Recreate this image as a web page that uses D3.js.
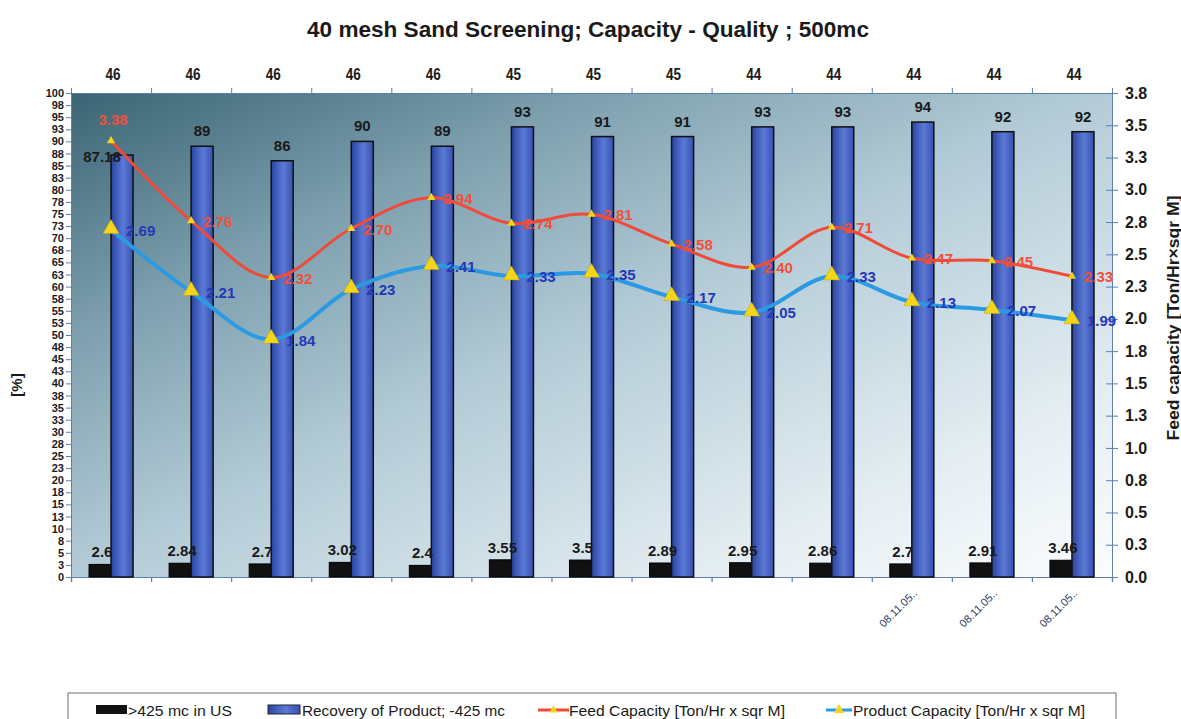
<!DOCTYPE html>
<html>
<head>
<meta charset="utf-8">
<script src="https://cdn.jsdelivr.net/npm/d3@7"></script>
<style>
  body { margin:0; background:#fff; }
  svg { display:block; font-family: "Liberation Sans", Arial, sans-serif; }
</style>
</head>
<body>
<svg id="chart" width="1181" height="719"></svg>
<script>
// ---------- DATA ----------
const categories = ["1","2","3","4","5","6","7","8","9","10","11","12","13"];
const xLabels = ["","","","","","","","","","","08.11.05..","08.11.05..","08.11.05.."];
const topLabels = [46,46,46,46,46,45,45,45,44,44,44,44,44];
const oversize = [2.6,2.84,2.7,3.02,2.4,3.55,3.5,2.89,2.95,2.86,2.7,2.91,3.46];      // >425 mc in US [%]
const recovery = [87.18,89,86,90,89,93,91,91,93,93,94,92,92];                       // Recovery of Product; -425 mc [%]
const feedCap = [3.38,2.76,2.32,2.70,2.94,2.74,2.81,2.58,2.40,2.71,2.47,2.45,2.33];  // Feed Capacity
const prodCap = [2.69,2.21,1.84,2.23,2.41,2.33,2.35,2.17,2.05,2.33,2.13,2.07,1.99];  // Product Capacity
const leftTicks = d3.range(0, 100.01, 2.5);
const leftTickLabels = ["0","3","5","8","10","13","15","18","20","23","25","28","30","33","35","38","40","43","45","48","50","53","55","58","60","63","65","68","70","73","75","78","80","83","85","88","90","93","95","98","100"];
const rightTicks = d3.range(0, 3.76, 0.25);
const rightTickLabels = ["0.0","0.3","0.5","0.8","1.0","1.3","1.5","1.8","2.0","2.3","2.5","2.8","3.0","3.3","3.5","3.8"];
const title = "40 mesh Sand Screening; Capacity - Quality ; 500mc";
const legendItems = [">425 mc in US","Recovery of Product; -425 mc","Feed Capacity [Ton/Hr x sqr M]","Product Capacity [Ton/Hr x sqr M]"];

// ---------- LAYOUT ----------
const svg = d3.select("#chart");
const M = {left:71, right:1112, top:93, bottom:577};
const W = M.right - M.left, H = M.bottom - M.top;

const defs = svg.append("defs");
const bg = defs.append("linearGradient").attr("id","bg").attr("x1","0").attr("y1","0").attr("x2","1").attr("y2","1");
bg.append("stop").attr("offset","0").attr("stop-color","#3a6474");
bg.append("stop").attr("offset","0.25").attr("stop-color","#7d9fae");
bg.append("stop").attr("offset","0.5").attr("stop-color","#b4ccd7");
bg.append("stop").attr("offset","0.8").attr("stop-color","#e4edf2");
bg.append("stop").attr("offset","1").attr("stop-color","#fbfdfe");
const barG = defs.append("linearGradient").attr("id","barG").attr("x1","0").attr("y1","0").attr("x2","1").attr("y2","0");
barG.append("stop").attr("offset","0").attr("stop-color","#2a44a0");
barG.append("stop").attr("offset","0.55").attr("stop-color","#5a7ad6");
barG.append("stop").attr("offset","1").attr("stop-color","#3850b0");

const x0 = d3.scaleBand().domain(categories).range([M.left, M.right]).paddingInner(0.45).paddingOuter(0.225);
const x1 = d3.scaleBand().domain(["over","rec"]).range([0, x0.bandwidth()]);
const step = x0.step();
const yL = d3.scaleLinear().domain([0,100]).range([M.bottom, M.top]);
const yR = d3.scaleLinear().domain([0,3.75]).range([M.bottom, M.top]);
const cx = c => x0(c) + x0.bandwidth()/2;

// plot background
svg.append("rect").attr("x",M.left).attr("y",M.top).attr("width",W).attr("height",H).attr("fill","url(#bg)");

// title
svg.append("text").attr("x",588).attr("y",37).attr("text-anchor","middle")
  .attr("font-size",22).attr("font-weight","bold").attr("fill","#1a1a1a")
  .attr("textLength",562).attr("lengthAdjust","spacingAndGlyphs").text(title);

// top labels
svg.append("g").selectAll("text").data(topLabels).join("text")
  .attr("x",(d,i)=>cx(categories[i])+2).attr("y",80).attr("text-anchor","middle")
  .attr("font-size",16).attr("font-weight","bold").attr("fill","#1a1a1a")
  .attr("textLength",15).attr("lengthAdjust","spacingAndGlyphs").text(d=>d);

// axes
const axisColor = "#5a7fb0";
const boundaries = d3.range(0, categories.length+1).map(i => M.left + i*step);
const xBottom = d3.axisBottom(d3.scaleLinear().domain([M.left,M.right]).range([M.left,M.right]))
  .tickValues(boundaries).tickSize(5).tickFormat("");
svg.append("g").attr("transform",`translate(0,${M.bottom})`).call(xBottom)
  .call(g=>g.selectAll("path,line").attr("stroke",axisColor).attr("stroke-width",1.2));
const xTop = d3.axisTop(d3.scaleLinear().domain([M.left,M.right]).range([M.left,M.right]))
  .tickValues(boundaries).tickSize(5).tickFormat("");
svg.append("g").attr("transform",`translate(0,${M.top})`).call(xTop)
  .call(g=>g.selectAll("path,line").attr("stroke",axisColor).attr("stroke-width",1));

// bottom category labels
svg.append("g").selectAll("text").data(xLabels).join("text")
  .attr("transform",(d,i)=>`translate(${cx(categories[i])+6},${M.bottom+17}) rotate(-45)`)
  .attr("text-anchor","end").attr("font-size",11).attr("fill","#2a3a6a").text(d=>d);

// left axis
const axL = d3.axisLeft(yL).tickValues(leftTicks).tickSize(5).tickFormat((d,i)=>leftTickLabels[i]);
svg.append("g").attr("transform",`translate(${M.left},0)`).call(axL)
  .call(g=>g.selectAll("path,line").attr("stroke",axisColor))
  .call(g=>g.selectAll("text").attr("font-size",11).attr("font-weight","bold").attr("fill","#1a1a1a").attr("x",-7));
// right axis
const axR = d3.axisRight(yR).tickValues(rightTicks).tickSize(6).tickFormat((d,i)=>rightTickLabels[i]);
svg.append("g").attr("transform",`translate(${M.right},0)`).call(axR)
  .call(g=>g.selectAll("path,line").attr("stroke",axisColor))
  .call(g=>g.selectAll("line").attr("x1",-6))
  .call(g=>g.selectAll("text").attr("font-size",16).attr("font-weight","bold").attr("fill","#1a1a1a").attr("x",13));

// axis titles
svg.append("text").attr("transform","translate(22,385) rotate(-90)").attr("text-anchor","middle")
  .attr("font-size",15).attr("font-weight","bold").attr("fill","#1a1a1a").text("[%]");
svg.append("text").attr("transform","translate(1179,318) rotate(-90)").attr("text-anchor","middle")
  .attr("font-size",16).attr("font-weight","bold").attr("fill","#1a1a1a")
  .attr("textLength",245).attr("lengthAdjust","spacingAndGlyphs").text("Feed capacity [Ton/Hr×sqr M]");

// bars
const gb = svg.append("g");
gb.selectAll("rect.over").data(oversize).join("rect").attr("class","over")
  .attr("x",(d,i)=>x0(categories[i])+x1("over")).attr("width",x1.bandwidth())
  .attr("y",d=>yL(d)).attr("height",d=>yL(0)-yL(d)).attr("fill","#111").attr("stroke","#000");
gb.selectAll("rect.rec").data(recovery).join("rect").attr("class","rec")
  .attr("x",(d,i)=>x0(categories[i])+x1("rec")).attr("width",x1.bandwidth())
  .attr("y",d=>yL(d)).attr("height",d=>yL(0)-yL(d)).attr("fill","url(#barG)").attr("stroke","#111").attr("stroke-width",1.5);

// bar labels
gb.selectAll("text.ol").data(oversize).join("text").attr("class","ol")
  .attr("x",(d,i)=>x0(categories[i])+x1("over")+x1.bandwidth()/2+2).attr("y",d=>yL(d)-7)
  .attr("text-anchor","middle").attr("font-size",15).attr("font-weight","bold").attr("fill","#1a1a1a").text(d=>d);
gb.selectAll("text.rl").data(recovery).join("text").attr("class","rl")
  .attr("x",(d,i)=>x0(categories[i])+x1("rec")+x1.bandwidth()/2 - (i===0?20:0)).attr("y",(d,i)=>i===0?yL(d)+7:yL(d)-10)
  .attr("text-anchor","middle").attr("font-size",15).attr("font-weight","bold").attr("fill","#1a1a1a").text(d=>d);

// lines
const line = yS => d3.line().x((d,i)=>cx(categories[i])).y(d=>yS(d)).curve(d3.curveCatmullRom.alpha(0.5));
const tri = d3.symbol().type(d3.symbolTriangle);

svg.append("path").datum(prodCap).attr("d",line(yR)).attr("fill","none").attr("stroke","#2a9be2").attr("stroke-width",4);
svg.append("path").datum(feedCap).attr("d",line(yR)).attr("fill","none").attr("stroke","#f04a38").attr("stroke-width",3);

svg.append("g").selectAll("path").data(prodCap).join("path")
  .attr("transform",(d,i)=>`translate(${cx(categories[i])},${yR(d)-1})`).attr("d",tri.size(110)())
  .attr("fill","#f5d41c").attr("stroke","#c9a800").attr("stroke-width",0.5);
svg.append("g").selectAll("path").data(feedCap).join("path")
  .attr("transform",(d,i)=>`translate(${cx(categories[i])},${yR(d)})`).attr("d",tri.size(30)())
  .attr("fill","#f5d41c");

svg.append("g").selectAll("text").data(feedCap).join("text")
  .attr("x",(d,i)=>i===0?cx(categories[i])+2:cx(categories[i])+12).attr("y",(d,i)=>i===0?yR(d)-16:yR(d)+6)
  .attr("text-anchor",(d,i)=>i===0?"middle":"start")
  .attr("font-size",15).attr("font-weight","bold").attr("fill","#f0503c").text(d=>d.toFixed(2));
svg.append("g").selectAll("text").data(prodCap).join("text")
  .attr("x",(d,i)=>cx(categories[i])+15).attr("y",d=>yR(d)+6)
  .attr("font-size",15).attr("font-weight","bold").attr("fill","#2438b8").text(d=>d.toFixed(2));

// legend
const lg = svg.append("g");
lg.append("rect").attr("x",68).attr("y",693).attr("width",1048).attr("height",40).attr("fill","#fff").attr("stroke","#888").attr("stroke-width",1.2);
const lx = [96, 268, 538, 826];
const sw = [31, 32, 31, 26];
const ly = 710;
lg.append("rect").attr("x",lx[0]).attr("y",ly-5).attr("width",sw[0]).attr("height",9).attr("fill","#111");
lg.append("rect").attr("x",lx[1]).attr("y",ly-5).attr("width",sw[1]).attr("height",9).attr("fill","url(#barG)").attr("stroke","#223");
lg.append("line").attr("x1",lx[2]).attr("x2",lx[2]+sw[2]).attr("y1",ly).attr("y2",ly).attr("stroke","#f04a38").attr("stroke-width",3);
lg.append("path").attr("transform",`translate(${lx[2]+sw[2]/2},${ly})`).attr("d",tri.size(30)()).attr("fill","#f5d41c");
lg.append("line").attr("x1",lx[3]).attr("x2",lx[3]+sw[3]).attr("y1",ly).attr("y2",ly).attr("stroke","#2a9be2").attr("stroke-width",3);
lg.append("path").attr("transform",`translate(${lx[3]+sw[3]/2},${ly})`).attr("d",tri.size(45)()).attr("fill","#f5d41c");
const lt = [128, 302, 569, 853];
const lw = [104, 203, 216, 232];
lg.selectAll("text").data(legendItems).join("text")
  .attr("x",(d,i)=>lt[i]).attr("y",ly+6).attr("font-size",15).attr("fill","#1a1a1a")
  .attr("textLength",(d,i)=>lw[i]).attr("lengthAdjust","spacingAndGlyphs").text(d=>d);
</script>
</body>
</html>
